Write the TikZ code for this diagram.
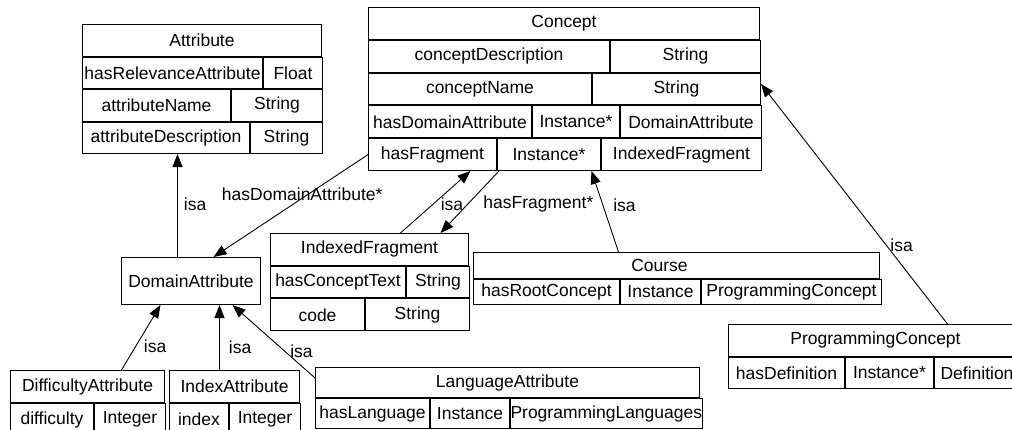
\documentclass[tikz,border=0pt]{standalone}
\usepackage{fontspec}
\setmainfont{Liberation Sans}
\usetikzlibrary{arrows.meta,positioning}

\begin{document}
\begin{tikzpicture}[
    x=1pt, y=-1pt,
    cell/.style={rectangle, draw, line width=1pt, inner sep=0pt, anchor=north west, font=\fontsize{17.5}{20}\selectfont},
    lbl/.style={inner sep=0pt, font=\fontsize{17.5}{20}\selectfont},
    isa/.style={line width=0.9pt, -{Triangle[length=13pt,width=10pt]}}
]
    \useasboundingbox (0,0) rectangle (1012,429);

    % Attribute
    \node[cell, minimum width=239, minimum height=31.5] (attr) at (82,24) {Attribute};
    \node[cell, minimum width=180, minimum height=31.5] (ahrel) at (attr.south west) {hasRelevanceAttribute};
    \node[cell, minimum width=59, minimum height=31.5] (afloat) at (ahrel.north east) {Float};
    \node[cell, minimum width=148, minimum height=31.5] (aname) at (ahrel.south west) {attributeName};
    \node[cell, minimum width=91, minimum height=31.5] (astr1) at (aname.north east) {String};
    \node[cell, minimum width=167, minimum height=31.5] (adesc) at (aname.south west) {attributeDescription};
    \node[cell, minimum width=72, minimum height=31.5] (astr2) at (adesc.north east) {String};

    % Concept
    \node[cell, minimum width=391, minimum height=31.8] (concept) at (368,7) {Concept};
    \node[cell, minimum width=241, minimum height=31.8] (cdesc) at (concept.south west) {conceptDescription};
    \node[cell, minimum width=150, minimum height=31.8] (cstr1) at (cdesc.north east) {String};
    \node[cell, minimum width=223, minimum height=31.8] (cname) at (cdesc.south west) {conceptName};
    \node[cell, minimum width=168, minimum height=31.8] (cstr2) at (cname.north east) {String};
    \node[cell, minimum width=163, minimum height=31.8] (chasda) at (cname.south west) {hasDomainAttribute};
    \node[cell, minimum width=87, minimum height=31.8] (cinst1) at (chasda.north east) {Instance*};
    \node[cell, minimum width=141, minimum height=31.8] (cda) at (cinst1.north east) {DomainAttribute};
    \node[cell, minimum width=128, minimum height=31.8] (chasfr) at (chasda.south west) {hasFragment};
    \node[cell, minimum width=103, minimum height=31.8] (cinst2) at (chasfr.north east) {Instance*};
    \node[cell, minimum width=160, minimum height=31.8] (cfrag) at (cinst2.north east) {IndexedFragment};

    % DomainAttribute
    \node[cell, minimum width=139, minimum height=47] (domattr) at (121,257) {DomainAttribute};

    % IndexedFragment
    \node[cell, minimum width=198, minimum height=31.7] (ifrag) at (270,233) {IndexedFragment};
    \node[cell, minimum width=135, minimum height=31.7] (ihct) at (ifrag.south west) {hasConceptText};
    \node[cell, minimum width=63, minimum height=31.7] (istr1) at (ihct.north east) {String};
    \node[cell, minimum width=94, minimum height=31.7] (icode) at (ihct.south west) {code};
    \node[cell, minimum width=104, minimum height=31.7] (istr2) at (icode.north east) {String};

    % Course
    \node[cell, minimum width=406, minimum height=25.5] (course) at (473,252) {Course\hspace*{34pt}};
    \node[cell, minimum width=146, minimum height=25.5] (croot) at (course.south west) {hasRootConcept};
    \node[cell, minimum width=80, minimum height=25.5] (cinst3) at (croot.north east) {Instance};
    \node[cell, minimum width=180, minimum height=25.5] (cprog) at (cinst3.north east) {ProgrammingConcept};

    % LanguageAttribute
    \node[cell, minimum width=384, minimum height=30] (langattr) at (315,367) {LanguageAttribute};
    \node[cell, minimum width=114, minimum height=30] (lhas) at (langattr.south west) {hasLanguage};
    \node[cell, minimum width=79, minimum height=30] (linst) at (lhas.north east) {Instance};
    \node[cell, minimum width=191, minimum height=30] (lprog) at (linst.north east) {ProgrammingLanguages};

    % DifficultyAttribute and IndexAttribute
    \node[cell, minimum width=154, minimum height=32] (diffattr) at (10,370) {DifficultyAttribute};
    \node[cell, minimum width=83, minimum height=32] (ddiff) at (diffattr.south west) {difficulty};
    \node[cell, minimum width=71, minimum height=32] (dint) at (ddiff.north east) {Integer};
    \node[cell, minimum width=130, minimum height=32] (idxattr) at (169,370) {IndexAttribute};
    \node[cell, minimum width=59, minimum height=32] (iidx) at (idxattr.south west) {index};
    \node[cell, minimum width=71, minimum height=32] (iint) at (iidx.north east) {Integer};

    % ProgrammingConcept
    \node[cell, minimum width=294, minimum height=31.5] (progc) at (728,324) {ProgrammingConcept};
    \node[cell, minimum width=116, minimum height=31.5] (pdef) at (progc.south west) {hasDefinition};
    \node[cell, minimum width=88, minimum height=31.5] (pinst) at (pdef.north east) {Instance*};
    \node[cell, minimum width=85, minimum height=31.5] (pdefn) at (pinst.north east) {Definition};

    % edges
    \draw[isa] ([xshift=-13.5]domattr.north) -- node[lbl, pos=.51, right=6pt] {isa} ([xshift=11.5]adesc.south);
    \draw[isa] ([xshift=34]diffattr.north) -- node[lbl, pos=.37, right=7.5pt] {isa} ([xshift=-30.5]domattr.south);
    \draw[isa] ([xshift=-15]idxattr.north) -- node[lbl, pos=.35, right=9pt] {isa} ([xshift=28.5]domattr.south);
    \draw[isa] ([yshift=-11]langattr.north west) -- node[lbl, pos=.36, right=4.5pt] {isa} ([xshift=41.5]domattr.south);
    \draw[isa] (chasfr.west) -- node[lbl, pos=.39, xshift=-5.5pt] {hasDomainAttribute*} ([xshift=22.5]domattr.north);
    \draw[isa] ([xshift=31]ifrag.north) -- node[lbl, pos=.47, right=7pt] {isa} ([xshift=38]chasfr.south);
    \draw[isa] ([xshift=2]cinst2.south west) -- node[lbl, pos=.53, right=15pt] {hasFragment*} ([xshift=71]ifrag.north);
    \draw[isa] ([xshift=-58]course.north) -- node[lbl, pos=.58, right=10pt] {isa} ([xshift=42.5]cinst2.south);
    \draw[isa] ([xshift=72]progc.north) -- node[lbl, pos=.33, right=4pt] {isa} ([yshift=5]cstr2.east);
\end{tikzpicture}
\end{document}
